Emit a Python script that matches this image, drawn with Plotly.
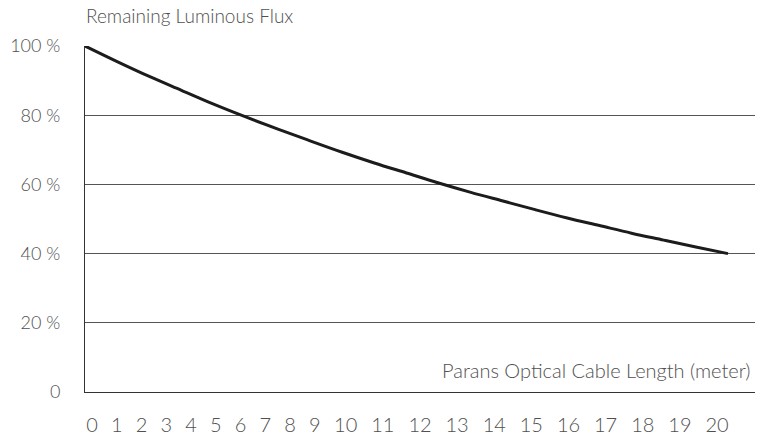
import plotly.graph_objects as go

# ---- data ----
cable_length_m = [0, 1, 2, 3, 4, 5, 6, 7, 8, 9, 10, 11, 12, 13, 14, 15, 16, 17, 18, 19, 20]
remaining_flux_pct = [100, 95.5, 91.2, 87.2, 83.2, 79.5, 76.0, 72.6, 69.3, 66.2, 63.3,
                      60.4, 57.7, 55.2, 52.7, 50.3, 48.1, 45.9, 43.9, 41.9, 40.0]
y_tick_values = [0, 20, 40, 60, 80, 100]
y_tick_labels = ["0", "20 %", "40 %", "60 %", "80 %", "100 %"]
x_tick_labels = ["0", "1", "2", "3", "4", "5", "6", "7", "8", "9", "10",
                 "11", "12", "13", "14", "15", "16", "17", "18", "19", "20"]
y_title = "Remaining Luminous Flux"
x_title = "Parans Optical Cable Length (meter)"

# ---- layout constants ----
W, H = 770, 437
ML, MR, MT, MB = 85, 15, 46, 45
plot_w = W - ML - MR
curve_end_px = 728          # pixel where x = 20 sits
px_per_m = (curve_end_px - ML) / cable_length_m[-1]
x_range = [0, plot_w / px_per_m]

# tick labels in the reference are typed as one spaced string:
# place each label at its character-cell centre
centers, cursor = [], 0
for lab in x_tick_labels:
    centers.append(cursor + len(lab) / 2)
    cursor += len(lab) + 1
first_px, last_px = 92, 717
cell_px = (last_px - first_px) / (centers[-1] - centers[0])
x2_range = [centers[0] - (first_px - ML) / cell_px,
            centers[0] + (W - MR - first_px) / cell_px]

TXT = "#505050"
FONT = "Lato, 'Open Sans', sans-serif"

fig = go.Figure()
fig.add_trace(go.Scatter(
    x=cable_length_m, y=remaining_flux_pct, mode="lines",
    line=dict(color="#1c1c1c", width=3, shape="spline"),
    hoverinfo="x+y", showlegend=False,
))
# invisible trace to activate the label axis
fig.add_trace(go.Scatter(x=[centers[0]], y=[None], xaxis="x2", yaxis="y",
                         mode="markers", showlegend=False, hoverinfo="skip"))

fig.update_layout(
    width=W, height=H,
    margin=dict(l=ML, r=MR, t=MT, b=MB, autoexpand=False),
    paper_bgcolor="white", plot_bgcolor="white",
    font=dict(family=FONT, color=TXT, weight=300),
    xaxis=dict(range=x_range, showgrid=False, zeroline=False,
               showticklabels=False, ticks="", automargin=False,
               showline=True, linecolor="#333", linewidth=1),
    xaxis2=dict(range=x2_range, overlaying="x", anchor="y", side="bottom",
                tickvals=centers, ticktext=x_tick_labels, ticks="",
                showgrid=False, zeroline=False, showline=False,
                ticklabelstandoff=19, automargin=False,
                tickfont=dict(size=20, color=TXT, family=FONT, weight=300)),
    yaxis=dict(range=[0, 100], tickvals=y_tick_values, ticktext=y_tick_labels,
               showgrid=True, gridcolor="#555", gridwidth=1,
               zeroline=False, ticks="", ticklabelstandoff=20, automargin=False,
               showline=True, linecolor="#333", linewidth=1,
               tickfont=dict(size=18, color=TXT, family=FONT, weight=300)),
    annotations=[
        dict(text=y_title, xref="paper", yref="paper", x=0, y=1,
             xanchor="left", yanchor="bottom", yshift=17, xshift=-1, showarrow=False,
             font=dict(size=19, color=TXT, family=FONT, weight=300)),
        dict(text=x_title, xref="paper", yref="y", x=1, y=6.4,
             xanchor="right", yanchor="middle", xshift=-2, showarrow=False,
             font=dict(size=20, color=TXT, family=FONT, weight=300)),
    ],
)
fig.write_html("out.html", config={"displayModeBar": False},
               post_script="document.body.style.margin='0';")
